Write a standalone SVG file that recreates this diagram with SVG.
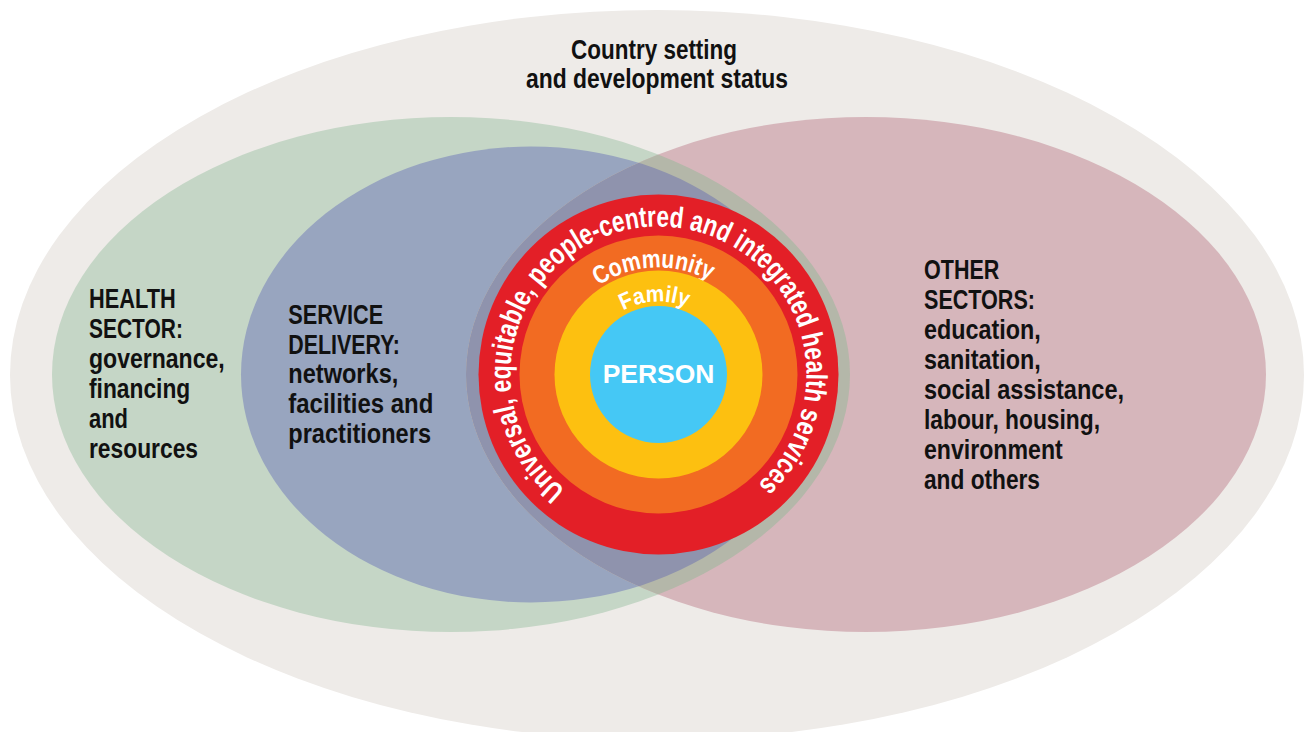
<svg xmlns="http://www.w3.org/2000/svg" width="1311" height="732" viewBox="0 0 1311 732">
  <style>
    .lbl { font-family: "Liberation Sans", Arial, sans-serif; font-weight: bold; font-size: 27px; fill: #111111; }
    .wht { font-family: "Liberation Sans", Arial, sans-serif; font-weight: bold; fill: #ffffff; }
  </style>
  <defs>
    <ellipse id="eGreen" cx="451" cy="374.5" rx="399" ry="257.5"/>
    <ellipse id="eBlue" cx="531" cy="374.5" rx="290" ry="228"/>
    <ellipse id="ePink" cx="866" cy="374.5" rx="400" ry="257.5"/>
    <clipPath id="clipPink"><use href="#ePink"/></clipPath>
    <path id="arcMain" d="M 658.5,522.5 A 148,148 0 1,1 658.5,226.5 A 148,148 0 1,1 658.5,522.5"/>
    <path id="arcComm" d="M 658.5,481.5 A 107,107 0 1,1 658.5,267.5 A 107,107 0 1,1 658.5,481.5"/>
    <path id="arcFam" d="M 658.5,447.5 A 73,73 0 1,1 658.5,301.5 A 73,73 0 1,1 658.5,447.5"/>
  </defs>

  <rect width="1311" height="732" fill="#ffffff"/>

  <g id="country">
    <ellipse cx="657" cy="375" rx="647" ry="365" fill="#eeebe8"/>
    <text class="lbl" text-anchor="middle">
      <tspan x="657.8" y="59" textLength="166" lengthAdjust="spacingAndGlyphs">Country setting</tspan>
      <tspan x="657" y="88.3" textLength="262" lengthAdjust="spacingAndGlyphs">and development status</tspan>
    </text>
  </g>

  <g id="health-sector">
    <use href="#eGreen" fill="#c5d6c6"/>
  </g>
  <g id="service-delivery">
    <use href="#eBlue" fill="#98a5bf"/>
  </g>
  <g id="other-sectors">
    <use href="#ePink" fill="#d6b6bb"/>
    <g clip-path="url(#clipPink)">
      <use href="#eGreen" fill="#b4b7a9"/>
      <use href="#eBlue" fill="#8f93ad"/>
    </g>
  </g>

  <g id="health-sector-label">
    <text class="lbl">
      <tspan x="89" y="308.3" textLength="86.7" lengthAdjust="spacingAndGlyphs">HEALTH</tspan>
      <tspan x="89" y="338.3" textLength="94" lengthAdjust="spacingAndGlyphs">SECTOR:</tspan>
      <tspan x="89" y="368" textLength="135.7" lengthAdjust="spacingAndGlyphs">governance,</tspan>
      <tspan x="89" y="398" textLength="101.3" lengthAdjust="spacingAndGlyphs">financing</tspan>
      <tspan x="89" y="428" textLength="39" lengthAdjust="spacingAndGlyphs">and</tspan>
      <tspan x="89" y="458" textLength="109" lengthAdjust="spacingAndGlyphs">resources</tspan>
    </text>
  </g>

  <g id="service-delivery-label">
    <text class="lbl">
      <tspan x="288.3" y="324" textLength="95" lengthAdjust="spacingAndGlyphs">SERVICE</tspan>
      <tspan x="288.3" y="354" textLength="111.7" lengthAdjust="spacingAndGlyphs">DELIVERY:</tspan>
      <tspan x="288.3" y="383.3" textLength="110" lengthAdjust="spacingAndGlyphs">networks,</tspan>
      <tspan x="288.3" y="413" textLength="145" lengthAdjust="spacingAndGlyphs">facilities and</tspan>
      <tspan x="288.3" y="443" textLength="142.7" lengthAdjust="spacingAndGlyphs">practitioners</tspan>
    </text>
  </g>

  <g id="other-sectors-label">
    <text class="lbl">
      <tspan x="924" y="279" textLength="75.3" lengthAdjust="spacingAndGlyphs">OTHER</tspan>
      <tspan x="924" y="309" textLength="111" lengthAdjust="spacingAndGlyphs">SECTORS:</tspan>
      <tspan x="924" y="338.5" textLength="116.7" lengthAdjust="spacingAndGlyphs">education,</tspan>
      <tspan x="924" y="368.5" textLength="116.7" lengthAdjust="spacingAndGlyphs">sanitation,</tspan>
      <tspan x="924" y="398.5" textLength="200" lengthAdjust="spacingAndGlyphs">social assistance,</tspan>
      <tspan x="924" y="428.5" textLength="176" lengthAdjust="spacingAndGlyphs">labour, housing,</tspan>
      <tspan x="924" y="458.5" textLength="138.7" lengthAdjust="spacingAndGlyphs">environment</tspan>
      <tspan x="924" y="488.5" textLength="116" lengthAdjust="spacingAndGlyphs">and others</tspan>
    </text>
  </g>

  <g id="health-services">
    <circle cx="658.5" cy="374.5" r="180" fill="#e31f27"/>
    <text class="wht" font-size="29.5">
      <textPath href="#arcMain" startOffset="100.7" textLength="720" lengthAdjust="spacingAndGlyphs">Universal, equitable, people-centred and integrated health services</textPath>
    </text>
  </g>

  <g id="community">
    <circle cx="658.5" cy="374.5" r="139" fill="#f26b22"/>
    <text class="wht" font-size="25.5">
      <textPath href="#arcComm" startOffset="272.3" textLength="116.7" lengthAdjust="spacingAndGlyphs">Community</textPath>
    </text>
  </g>

  <g id="family">
    <circle cx="658.5" cy="374.5" r="104" fill="#fdc010"/>
    <text class="wht" font-size="23">
      <textPath href="#arcFam" startOffset="192.1" textLength="66" lengthAdjust="spacingAndGlyphs">Family</textPath>
    </text>
  </g>

  <g id="person">
    <circle cx="658.5" cy="374.5" r="68.5" fill="#45c8f5"/>
    <text class="wht" font-size="26" x="658.5" y="383.3" text-anchor="middle" textLength="111.7" lengthAdjust="spacingAndGlyphs">PERSON</text>
  </g>
</svg>
